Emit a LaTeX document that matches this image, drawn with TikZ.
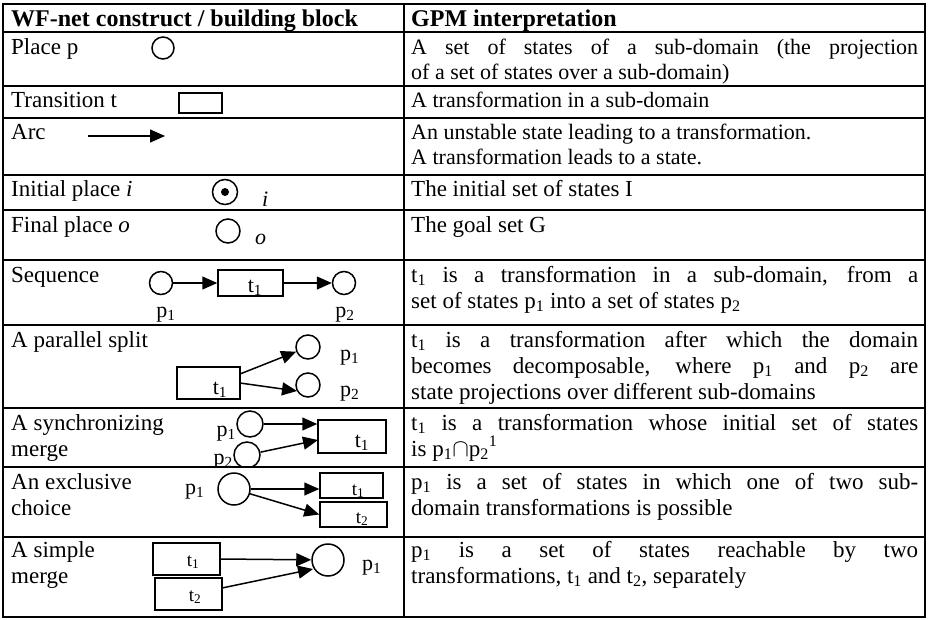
\documentclass[tikz,border=0pt]{standalone}
\usepackage{fontspec}
\setmainfont{Liberation Serif}
\usetikzlibrary{arrows.meta}
\newcommand\mysub[1]{\textsubscript{#1}}
\newcommand\mysup[1]{\textsuperscript{#1}}
\newcommand\jline[1]{\makebox[507pt][s]{#1}}
\begin{document}
\begin{tikzpicture}[x=1pt,y=-1pt,
  tbl/.style={line width=2pt},
  txt/.style={anchor=base west, inner sep=0pt, font=\fontsize{23}{26}\selectfont},
  stxt/.style={anchor=base west, inner sep=0pt, font=\fontsize{22}{25}\selectfont},
  hd/.style={anchor=base west, inner sep=0pt, font=\fontsize{24}{27}\selectfont\bfseries},
  place/.style={circle, draw, line width=1.5pt, inner sep=0pt},
  trans/.style={draw, line width=1.5pt, rectangle, inner sep=0pt},
  arc/.style={line width=1.5pt, -{Triangle[length=15pt,width=13pt]}},
  lbl/.style={inner sep=0pt, anchor=base, font=\fontsize{22}{25}\selectfont},
  slbl/.style={inner sep=0pt, anchor=base, font=\fontsize{19}{22}\selectfont},
]
\useasboundingbox (0,0) rectangle (931,619);
\fill[white] (0,0) rectangle (931,619);

% ---- table grid
\draw[tbl] (3,4) rectangle (925,617);
\draw[tbl] (404,4) -- (404,617);
\foreach \yy in {32,86,118,175,210,260,325,408,467,537}
  \draw[tbl] (3,\yy) -- (925,\yy);

% ---- header
\node[hd] (h1) at (11,26) {WF-net construct / building block};
\node[hd] (h2) at (411,26) {GPM interpretation};

% ---- left column texts
\node[txt] (l1) at (11,54) {Place p};
\node[txt] (l2) at (11,107) {Transition t};
\node[txt] (l3) at (11,139) {Arc};
\node[txt] (l4) at (11,196) {Initial place \textit{i}};
\node[txt] (l5) at (11,232) {Final place \textit{o}};
\node[txt] (l6) at (11,282) {Sequence};
\node[txt] (l7) at (11,347) {A parallel split};
\node[txt] (l8a) at (11,430) {A synchronizing};
\node[txt] (l8b) at (11,456) {merge};
\node[txt] (l9a) at (11,489) {An exclusive};
\node[txt] (l9b) at (11,515) {choice};
\node[txt] (l10a) at (11,557) {A simple};
\node[txt] (l10b) at (11,583) {merge};

% ---- right column texts
\node[stxt] (r1a) at (411,54) {\jline{A set of states of a sub-domain (the projection}};
\node[stxt] (r1b) at (411,79) {of a set of states over a sub-domain)};
\node[stxt] (r2) at (411,107) {A transformation in a sub-domain};
\node[stxt] (r3a) at (411,139) {An unstable state leading to a transformation.};
\node[stxt] (r3b) at (411,164) {A transformation leads to a state.};
\node[txt] (r4) at (411,196) {The initial set of states I};
\node[txt] (r5) at (411,232) {The goal set G};
\node[txt] (r6a) at (411,282) {\jline{t\mysub{1} is a transformation in a sub-domain, from a}};
\node[txt] (r6b) at (411,308) {set of states p\mysub{1} into a set of states p\mysub{2}};
\node[txt] (r7a) at (411,347) {\jline{t\mysub{1} is a transformation after which the domain}};
\node[txt] (r7b) at (411,373) {\jline{becomes decomposable, where p\mysub{1} and p\mysub{2} are}};
\node[txt] (r7c) at (411,399) {state projections over different sub-domains};
\node[txt] (r8a) at (411,430) {\jline{t\mysub{1} is a transformation whose initial set of states}};
\node[txt] (r8b) at (411,456) {is p\mysub{1}$\cap$p\mysub{2}\mysup{1}};
\node[txt] (r9a) at (411,489) {\jline{p\mysub{1} is a set of states in which one of two sub-}};
\node[txt] (r9b) at (411,515) {domain transformations is possible};
\node[txt] (r10a) at (411,557) {\jline{p\mysub{1} is a set of states reachable by two}};
\node[txt] (r10b) at (411,583) {transformations, t\mysub{1} and t\mysub{2}, separately};

% ---- Place p
\node[place, minimum size=22pt] (pp) at (163,48) {};
% ---- Transition t
\node[trans, minimum width=43pt, minimum height=20pt] (tt) at (200.5,103) {};
% ---- Arc
\coordinate (arcA) at (88,136);
\coordinate (arcB) at (165,136);
\draw[arc] (arcA) -- (arcB);
% ---- Initial place
\node[place, minimum size=25pt] (ip) at (225,192) {};
\fill (ip.center) circle (4);
\node[lbl, anchor=base west] (ipl) at (262,206) {\textit{i}};
% ---- Final place
\node[place, minimum size=24pt] (fp) at (228,231) {};
\node[lbl, anchor=base west] (fpl) at (255,244) {\textit{o}};
% ---- Sequence
\node[place, minimum size=23pt] (sc1) at (161,283) {};
\node[trans, minimum width=65pt, minimum height=26pt] (st) at (250.5,283) {};
\node[place, minimum size=23pt] (sc2) at (344,283) {};
\node[lbl] (stl) at (255,292) {t\mysub{1}};
\node[lbl] (sc1l) at (166,317) {p\mysub{1}};
\node[lbl] (sc2l) at (345,317) {p\mysub{2}};
\draw[arc] (sc1) -- (st);
\draw[arc] (st) -- (sc2);
% ---- Parallel split
\node[trans, minimum width=63pt, minimum height=32pt] (pt) at (208.5,383) {};
\node[place, minimum size=24pt] (pc1) at (308,347) {};
\node[place, minimum size=24pt] (pc2) at (308,385) {};
\node[lbl] (ptl) at (220,394) {t\mysub{1}};
\node[lbl, anchor=base west] (pc1l) at (340,360) {p\mysub{1}};
\node[lbl, anchor=base west] (pc2l) at (340,396) {p\mysub{2}};
\coordinate (ps1) at (240,374);
\coordinate (ps2) at (240,383);
\coordinate (pe2) at (297,391);
\draw[arc] (ps1) -- (pc1);
\draw[arc] (ps2) -- (pe2);
% ---- Synchronizing merge
\begin{scope}
\clip (3,408) rectangle (404,467);
\node[place, minimum size=26pt] (yc1) at (250,424) {};
\node[place, minimum size=26pt] (yc2) at (247,455) {};
\node[lbl, anchor=base east] (yc1l) at (236,436) {p\mysub{1}};
\node[lbl, anchor=base east] (yc2l) at (233,464) {p\mysub{2}};
\end{scope}
\node[trans, minimum width=68pt, minimum height=33pt] (yt) at (352,436.5) {};
\node[lbl] (ytl) at (362,447) {t\mysub{1}};
\coordinate (ye2) at (318,440);
\draw[arc] (yc1) -- (yc1 -| yt.west);
\draw[arc] (yc2) -- (ye2);
% ---- Exclusive choice
\node[place, minimum size=32pt] (ec) at (234,489) {};
\node[lbl, anchor=base west] (ecl) at (185,494) {p\mysub{1}};
\node[trans, minimum width=63pt, minimum height=25pt] (et1) at (351.5,485.5) {};
\node[trans, minimum width=67pt, minimum height=25pt] (et2) at (353.5,514.5) {};
\node[slbl] (et1l) at (358,495) {t\mysub{1}};
\node[slbl] (et2l) at (362,523) {t\mysub{2}};
\draw[arc] (ec) -- (ec -| et1.west);
\draw[arc] (ec) -- (et2.west);
% ---- Simple merge
\node[trans, minimum width=67pt, minimum height=32pt] (mt1) at (186.5,559) {};
\node[trans, minimum width=67pt, minimum height=32pt] (mt2) at (188.5,594) {};
\node[slbl] (mt1l) at (193,566) {t\mysub{1}};
\node[slbl] (mt2l) at (195,601) {t\mysub{2}};
\node[place, minimum size=32pt] (mc) at (328,560) {};
\node[lbl, anchor=base west] (mcl) at (362,570) {p\mysub{1}};
\coordinate (ms2) at (222,588);
\coordinate (me2) at (313,569);
\draw[arc] (mt1.east) -- (mc);
\draw[arc] (ms2) -- (me2);
\end{tikzpicture}
\end{document}
